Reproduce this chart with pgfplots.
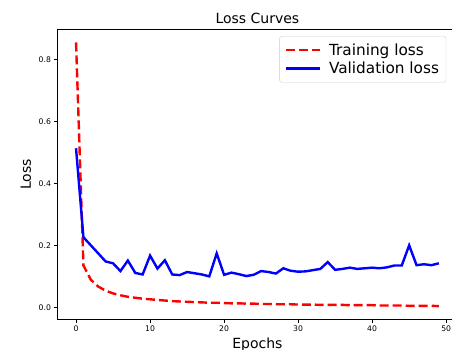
\documentclass[border=0pt]{standalone}
\usepackage{fontspec}
\setmainfont{DejaVu Sans}
\usepackage{pgfplots}
\pgfplotsset{compat=1.18}
\begin{document}
\begin{tikzpicture}
\path[use as bounding box] (-57.9pt,-30pt) rectangle (394.1pt,319.3pt);
\begin{axis}[
  at={(0pt,0pt)}, anchor=south west,
  scale only axis,
  width=399pt, height=290pt,
  xmin=-2.45, xmax=51.45,
  ymin=-0.0375, ymax=0.8975,
  xtick={0,10,20,30,40,50},
  ytick={0,0.2,0.4,0.6,0.8},
  yticklabel style={/pgf/number format/.cd,fixed,fixed zerofill,precision=1},
  /pgf/number format/assume math mode=true,
  tick align=outside,
  major tick length=3.4pt,
  tick style={black, line width=0.8pt},
  xtick pos=bottom, ytick pos=left,
  axis line style={black, line width=0.8pt},
  ticklabel style={font=\fontsize{7.7}{9}\selectfont},
  every axis title shift=0pt,
  title={Loss Curves},
  title style={font=\fontsize{14}{16}\selectfont, at={(0.5,1)}, anchor=base, yshift=5.5pt},
  xlabel={Epochs},
  xlabel style={font=\fontsize{14}{16}\selectfont, at={(0.5,0)}, anchor=base, yshift=-29pt},
  ylabel={Loss},
  ylabel style={font=\fontsize{14}{16}\selectfont, at={(axis description cs:-0.0677,0.5)}, anchor=base, rotate=0},
  legend cell align=left,
  legend image code/.code={\draw[#1] (0pt,0pt) -- (34pt,0pt);},
  legend style={font=\fontsize{15.3}{18}\selectfont, at={(1,1)}, anchor=north east,
    xshift=-10.7pt, yshift=-7pt, draw=black!20, rounded corners=2pt,
    fill=white, fill opacity=0.8, text opacity=1, inner xsep=5pt, inner ysep=5pt,
    row sep=1.5pt, /tikz/every odd column/.append style={column sep=6pt}},
]
\addplot[red, line width=2.4pt, dash pattern=on 9pt off 4pt] coordinates {
(0,0.855) (1,0.136) (2,0.090) (3,0.068) (4,0.055) (5,0.046) (6,0.040) (7,0.035) (8,0.032) (9,0.029)
(10,0.027) (11,0.025) (12,0.023) (13,0.021) (14,0.020) (15,0.019) (16,0.018) (17,0.017) (18,0.016) (19,0.016)
(20,0.015) (21,0.014) (22,0.014) (23,0.013) (24,0.013) (25,0.012) (26,0.012) (27,0.011) (28,0.011) (29,0.011)
(30,0.010) (31,0.010) (32,0.010) (33,0.009) (34,0.009) (35,0.009) (36,0.009) (37,0.008) (38,0.008) (39,0.008)
(40,0.008) (41,0.007) (42,0.007) (43,0.007) (44,0.007) (45,0.006) (46,0.006) (47,0.006) (48,0.006) (49,0.005)
};
\addlegendentry{Training loss}
\addplot[blue, line width=2.4pt] coordinates {
(0,0.514) (1,0.227) (2,0.201) (3,0.175) (4,0.149) (5,0.143) (6,0.118) (7,0.152) (8,0.112) (9,0.107)
(10,0.168) (11,0.126) (12,0.153) (13,0.107) (14,0.105) (15,0.115) (16,0.111) (17,0.107) (18,0.101) (19,0.175)
(20,0.106) (21,0.113) (22,0.108) (23,0.102) (24,0.106) (25,0.118) (26,0.115) (27,0.110) (28,0.127) (29,0.119)
(30,0.116) (31,0.117) (32,0.121) (33,0.125) (34,0.147) (35,0.122) (36,0.125) (37,0.129) (38,0.125) (39,0.127)
(40,0.129) (41,0.127) (42,0.130) (43,0.136) (44,0.136) (45,0.201) (46,0.137) (47,0.140) (48,0.137) (49,0.143)
};
\addlegendentry{Validation loss}
\end{axis}
\end{tikzpicture}
\end{document}
